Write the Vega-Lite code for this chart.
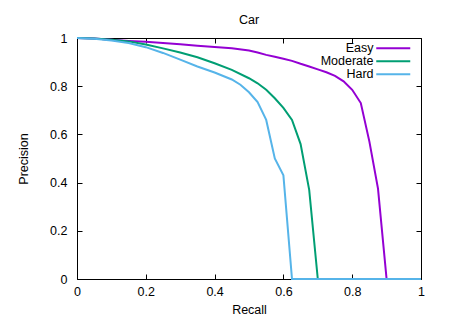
{
  "$schema": "https://vega.github.io/schema/vega-lite/v6.json",
  "width": 344,
  "height": 241,
  "autosize": {"type": "none"},
  "padding": {"left": 77, "top": 38, "right": 36, "bottom": 41},
  "background": "white",
  "config": {
    "font": "Liberation Sans",
    "view": {"stroke": "black", "strokeWidth": 1},
    "axis": {
      "domain": false,
      "grid": false,
      "labelFont": "Liberation Sans",
      "labelFontSize": 12.5,
      "labelColor": "black",
      "titleFont": "Liberation Sans",
      "titleFontSize": 12.5,
      "titleFontWeight": "normal",
      "titleColor": "black",
      "tickColor": "black",
      "tickSize": -5,
      "tickWidth": 1
    },
    "title": {"font": "Liberation Sans", "fontSize": 12.5, "fontWeight": "normal", "color": "black"}
  },
  "title": {"text": "Car", "baseline": "alphabetic", "offset": -4},
  "data": {
    "values": [
      {"set": "Easy", "recall": 0.0, "precision": 1.0},
      {"set": "Easy", "recall": 0.05, "precision": 0.998},
      {"set": "Easy", "recall": 0.1, "precision": 0.993},
      {"set": "Easy", "recall": 0.15, "precision": 0.988},
      {"set": "Easy", "recall": 0.2, "precision": 0.984},
      {"set": "Easy", "recall": 0.25, "precision": 0.979},
      {"set": "Easy", "recall": 0.3, "precision": 0.974},
      {"set": "Easy", "recall": 0.35, "precision": 0.968},
      {"set": "Easy", "recall": 0.4, "precision": 0.963},
      {"set": "Easy", "recall": 0.45, "precision": 0.957},
      {"set": "Easy", "recall": 0.5, "precision": 0.948},
      {"set": "Easy", "recall": 0.525, "precision": 0.94},
      {"set": "Easy", "recall": 0.55, "precision": 0.93},
      {"set": "Easy", "recall": 0.575, "precision": 0.922},
      {"set": "Easy", "recall": 0.6, "precision": 0.914},
      {"set": "Easy", "recall": 0.625, "precision": 0.905},
      {"set": "Easy", "recall": 0.65, "precision": 0.893},
      {"set": "Easy", "recall": 0.675, "precision": 0.882},
      {"set": "Easy", "recall": 0.7, "precision": 0.87},
      {"set": "Easy", "recall": 0.725, "precision": 0.858},
      {"set": "Easy", "recall": 0.75, "precision": 0.843},
      {"set": "Easy", "recall": 0.775, "precision": 0.82},
      {"set": "Easy", "recall": 0.8, "precision": 0.785},
      {"set": "Easy", "recall": 0.825, "precision": 0.73},
      {"set": "Easy", "recall": 0.85, "precision": 0.57},
      {"set": "Easy", "recall": 0.875, "precision": 0.375},
      {"set": "Easy", "recall": 0.9, "precision": 0.0},
      {"set": "Easy", "recall": 1.0, "precision": 0.0},
      {"set": "Moderate", "recall": 0.0, "precision": 1.0},
      {"set": "Moderate", "recall": 0.05, "precision": 0.998},
      {"set": "Moderate", "recall": 0.1, "precision": 0.993},
      {"set": "Moderate", "recall": 0.15, "precision": 0.986},
      {"set": "Moderate", "recall": 0.2, "precision": 0.973},
      {"set": "Moderate", "recall": 0.25, "precision": 0.957},
      {"set": "Moderate", "recall": 0.3, "precision": 0.94},
      {"set": "Moderate", "recall": 0.35, "precision": 0.92},
      {"set": "Moderate", "recall": 0.4, "precision": 0.895},
      {"set": "Moderate", "recall": 0.45, "precision": 0.868},
      {"set": "Moderate", "recall": 0.5, "precision": 0.833},
      {"set": "Moderate", "recall": 0.525, "precision": 0.812},
      {"set": "Moderate", "recall": 0.55, "precision": 0.785},
      {"set": "Moderate", "recall": 0.575, "precision": 0.75},
      {"set": "Moderate", "recall": 0.6, "precision": 0.71},
      {"set": "Moderate", "recall": 0.625, "precision": 0.66},
      {"set": "Moderate", "recall": 0.65, "precision": 0.56},
      {"set": "Moderate", "recall": 0.675, "precision": 0.37},
      {"set": "Moderate", "recall": 0.7, "precision": 0.0},
      {"set": "Moderate", "recall": 1.0, "precision": 0.0},
      {"set": "Hard", "recall": 0.0, "precision": 1.0},
      {"set": "Hard", "recall": 0.05, "precision": 0.997},
      {"set": "Hard", "recall": 0.1, "precision": 0.99},
      {"set": "Hard", "recall": 0.15, "precision": 0.979},
      {"set": "Hard", "recall": 0.2, "precision": 0.962},
      {"set": "Hard", "recall": 0.25, "precision": 0.938},
      {"set": "Hard", "recall": 0.3, "precision": 0.91},
      {"set": "Hard", "recall": 0.35, "precision": 0.882},
      {"set": "Hard", "recall": 0.4, "precision": 0.857},
      {"set": "Hard", "recall": 0.45, "precision": 0.828},
      {"set": "Hard", "recall": 0.475, "precision": 0.806},
      {"set": "Hard", "recall": 0.5, "precision": 0.775},
      {"set": "Hard", "recall": 0.525, "precision": 0.734},
      {"set": "Hard", "recall": 0.55, "precision": 0.66},
      {"set": "Hard", "recall": 0.575, "precision": 0.5},
      {"set": "Hard", "recall": 0.6, "precision": 0.43},
      {"set": "Hard", "recall": 0.625, "precision": 0.0},
      {"set": "Hard", "recall": 1.0, "precision": 0.0}
    ]
  },
  "layer": [
    {
      "mark": {"type": "line", "strokeWidth": 2},
      "encoding": {
        "x": {
          "field": "recall", "type": "quantitative", "title": "Recall",
          "scale": {"domain": [0, 1], "nice": false, "zero": false},
          "axis": {"orient": "bottom", "values": [0, 0.2, 0.4, 0.6, 0.8, 1], "format": "~g", "labelPadding": 11, "titlePadding": 6, "labelFlush": false}
        },
        "y": {
          "field": "precision", "type": "quantitative", "title": "Precision",
          "scale": {"domain": [0, 1], "nice": false, "zero": false},
          "axis": {"orient": "left", "values": [0, 0.2, 0.4, 0.6, 0.8, 1], "format": "~g", "labelPadding": 15, "titlePadding": 19, "labelFlush": false}
        },
        "color": {
          "field": "set", "type": "nominal",
          "scale": {"domain": ["Easy", "Moderate", "Hard"], "range": ["#9400d3", "#009e73", "#56b4e9"]},
          "legend": {
            "title": null,
            "orient": "none",
            "legendX": 310,
            "legendY": 4,
            "padding": 0,
            "symbolType": "M-17,0H17",
            "symbolSize": 4,
            "symbolStrokeWidth": 2,
            "symbolFillColor": "transparent",
            "rowPadding": 0,
            "labelAlign": "right",
            "labelOffset": -26,
            "labelFont": "Liberation Sans",
            "labelFontSize": 12.5,
            "labelColor": "black",
            "labelLimit": 200
          }
        },
        "order": {"field": "recall", "type": "quantitative"}
      }
    },
    {
      "mark": {"type": "line", "opacity": 0},
      "encoding": {
        "x": {
          "field": "recall", "type": "quantitative",
          "axis": {"orient": "top", "values": [0, 0.2, 0.4, 0.6, 0.8, 1], "labels": false, "title": null}
        },
        "y": {
          "field": "precision", "type": "quantitative",
          "axis": {"orient": "right", "values": [0, 0.2, 0.4, 0.6, 0.8, 1], "labels": false, "title": null}
        },
        "detail": {"field": "set"}
      }
    }
  ],
  "resolve": {"axis": {"x": "independent", "y": "independent"}}
}
